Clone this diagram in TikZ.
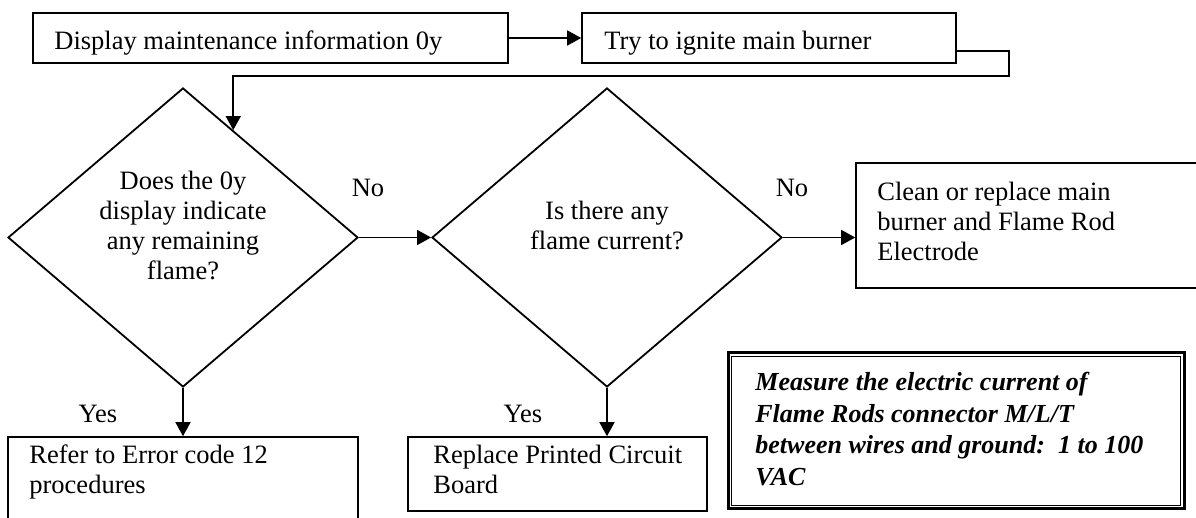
\documentclass[tikz,border=0pt]{standalone}
\usepackage{fontspec}
\setmainfont{Liberation Serif}
\usetikzlibrary{shapes.geometric,arrows.meta,calc}
\begin{document}
\begin{tikzpicture}[x=0.5pt,y=-0.5pt,
  every node/.style={inner sep=0pt,font=\fontsize{13.25}{15}\selectfont},
  box/.style={draw,line width=0.8pt,rectangle},
  dia/.style={draw,diamond,line width=0.9pt,minimum width=175pt,minimum height=149.5pt},
  arr/.style={line width=0.8pt,-{Triangle[length=7pt,width=7.5pt]}},
  note/.style={font=\fontsize{13}{15.85}\selectfont\bfseries\itshape}
]
\useasboundingbox (0,0) rectangle (1196,518);
\clip (0,0) rectangle (1196,518);

% boxes
\node[box,minimum width=237.5pt,minimum height=25pt] (b1) at (270.5,38) {};
\node[box,minimum width=187pt,minimum height=25pt] (b2) at (769,38) {};
\node[box,minimum width=177pt,minimum height=62.5pt] (b3) at (1033,225.5) {};
\node[box,minimum width=175pt,minimum height=50pt] (b4) at (183,487) {};
\node[box,minimum width=149.5pt,minimum height=37pt] (b5) at (557.5,474) {};
\node[draw,line width=1.5pt,minimum width=228pt,minimum height=78pt] (b6) at (956,431) {};
\draw[line width=0.6pt] ([shift={(2.6pt,-2.6pt)}]b6.north west) rectangle ([shift={(-2.6pt,2.6pt)}]b6.south east);

% diamonds
\node[dia] (d1) at (183,237.5) {};
\node[dia] (d2) at (607,237.5) {};

% texts
\node[anchor=base west] (t1) at (54,50) {Display maintenance information 0y};
\node[anchor=base west] (t2) at (604,50) {Try to ignite main burner};
\node[anchor=north west,align=left] (t3) at (877,179) {\strut Clean or replace main\\burner and Flame Rod\\Electrode};
\node[anchor=north,align=center] (t4) at (183,168) {\strut Does the 0y\\display indicate\\any remaining\\flame?};
\node[anchor=north,align=center] (t5) at (607,198) {\strut Is there any\\flame current?};
\node[anchor=north west,align=left] (t6) at (29,442) {\strut Refer to Error code 12\\procedures};
\node[anchor=north west,align=left] (t7) at (433,442) {\strut Replace Printed Circuit\\Board};
\node[note,anchor=north west,align=left] (t8) at (755,368) {\strut Measure the electric current of\\Flame Rods connector M/L/T\\between wires and ground:~~1 to 100\\VAC};

% labels
\node[anchor=base] (no1) at (368,197) {No};
\node[anchor=base] (no2) at (792,197) {No};
\node[anchor=base] (yes1) at (98,423) {Yes};
\node[anchor=base] (yes2) at (523,423) {Yes};

% connectors
\draw[arr] (b1.east) -- (b2.west);
\coordinate (c1) at (b2.east |- 0,51);
\coordinate (c2) at (1009,51);
\coordinate (c3) at (1009,76);
\coordinate (tip) at ($(d1.north)!0.2857!(d1.east)$);
\coordinate (c4) at (tip |- c3);
\draw[arr] (c1) -- (c2) -- (c3) -- (c4) -- (tip);
\draw[arr] (d1.east) -- (d2.west);
\draw[arr] (d2.east) -- (d2.east -| b3.west);
\draw[arr] (d1.south) -- (b4.north);
\draw[arr] (d2.south) -- (d2.south |- b5.north);
\end{tikzpicture}
\end{document}
